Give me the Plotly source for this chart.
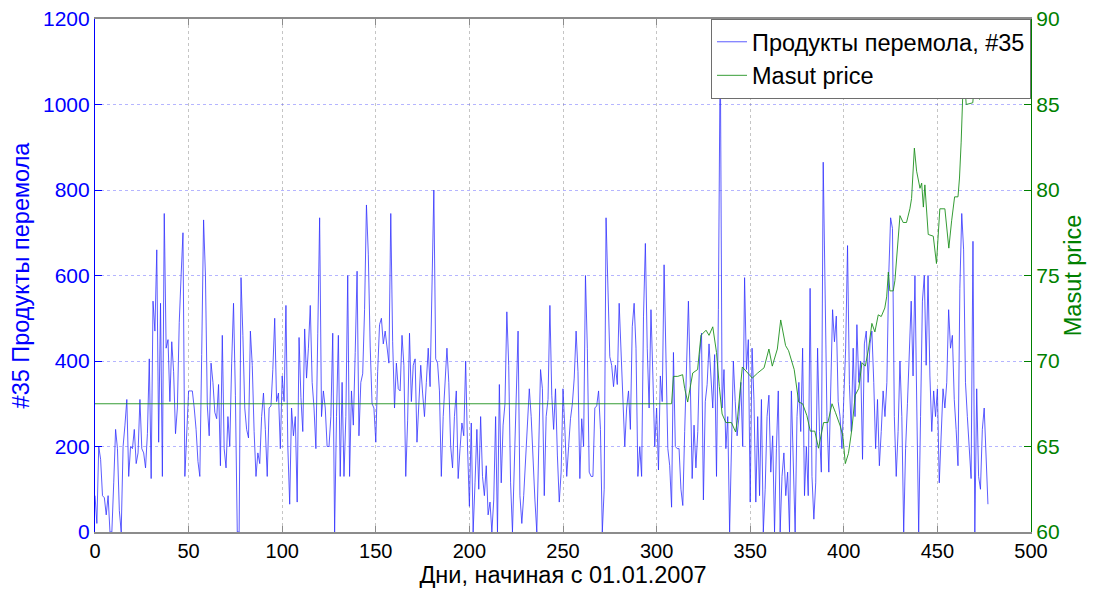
import numpy as np
import plotly.graph_objects as go

# Daily output of milled products (#35), days counted from 01.01.2007
product_35 = [
    85, 20, 200, 170, 85, 80, 40, 85, 0, 0,
    115, 240, 195, 50, 0, 200, 250, 310, 130, 200,
    195, 240, 160, 185, 310, 195, 185, 150, 230, 405,
    125, 540, 470, 660, 210, 535, 130, 745, 430, 450,
    305, 445, 375, 230, 290, 490, 600, 700, 130, 245,
    330, 330, 330, 290, 240, 165, 130, 415, 730, 600,
    295, 225, 395, 350, 280, 265, 345, 155, 460, 195,
    150, 270, 200, 395, 535, 320, 0, 0, 595, 460,
    290, 240, 220, 470, 390, 235, 130, 185, 160, 270,
    325, 240, 130, 290, 295, 380, 500, 305, 325, 195,
    365, 305, 530, 200, 65, 290, 225, 270, 70, 455,
    315, 235, 475, 360, 430, 530, 350, 290, 195, 465,
    735, 270, 330, 290, 200, 200, 270, 465, 0, 270,
    460, 130, 350, 130, 270, 600, 130, 330, 250, 420,
    610, 225, 350, 370, 520, 765, 650, 435, 300, 290,
    210, 375, 485, 500, 440, 470, 430, 395, 745, 445,
    290, 395, 335, 330, 460, 390, 130, 260, 465, 305,
    390, 405, 210, 305, 390, 325, 270, 350, 430, 340,
    570, 800, 405, 395, 330, 130, 270, 350, 430, 350,
    200, 150, 270, 330, 125, 195, 255, 225, 400, 200,
    60, 255, 0, 115, 240, 100, 270, 130, 85, 155,
    40, 70, 0, 75, 270, 0, 345, 115, 250, 300,
    515, 390, 115, 0, 165, 270, 470, 85, 20, 85,
    170, 230, 335, 270, 165, 75, 0, 170, 380, 335,
    85, 270, 310, 530, 320, 240, 335, 180, 70, 140,
    335, 240, 130, 200, 265, 300, 360, 470, 375, 125,
    265, 200, 600, 430, 140, 130, 130, 290, 295, 330,
    240, 0, 100, 735, 570, 410, 390, 340, 390, 345,
    535, 430, 305, 200, 290, 330, 240, 480, 535, 430,
    130, 200, 130, 505, 675, 430, 290, 520, 365, 200,
    290, 145, 365, 305, 625, 430, 195, 155, 58, 420,
    200, 195, 195, 100, 62, 235, 420, 540, 350, 125,
    250, 150, 235, 415, 465, 75, 305, 345, 440, 365,
    290, 415, 130, 520, 1150, 290, 380, 195, 270, 0,
    210, 400, 305, 225, 270, 350, 200, 595, 380, 450,
    70, 430, 310, 70, 270, 85, 310, 0, 100, 270,
    320, 140, 225, 0, 195, 330, 0, 130, 185, 85,
    140, 0, 330, 185, 0, 270, 350, 235, 430, 85,
    200, 85, 570, 130, 30, 115, 430, 235, 140, 865,
    530, 270, 140, 350, 520, 445, 505, 305, 270, 195,
    305, 430, 670, 345, 235, 430, 270, 485, 350, 400,
    170, 440, 470, 350, 440, 470, 350, 195, 310, 155,
    235, 330, 270, 350, 600, 735, 710, 270, 130, 235,
    400, 270, 0, 195, 300, 420, 540, 365, 600, 290,
    0, 270, 540, 600, 390, 600, 365, 235, 330, 270,
    335, 115, 240, 335, 290, 350, 520, 430, 460, 310,
    240, 155, 570, 745, 660, 350, 270, 195, 125, 680,
    0, 335, 130, 100, 240, 290, 155, 65,
]
product_days = np.arange(len(product_35))

# Masut (fuel oil) price, day and value at each change
masut_days = [
    0, 308, 309, 311.3, 313.9, 315, 316.6, 319.3, 321.9, 323.7,
    326.4, 328, 330, 332, 333.5, 335, 337, 340, 342.2, 343.1,
    345.8, 348, 351.1, 354, 357.4, 360, 361.8, 364.5, 366.3, 368.9,
    370.5, 373.5, 375.9, 378, 380.3, 382.1, 384.5, 386.5, 389.2, 391.5,
    393.7, 395.5, 398.1, 399.5, 400.8, 402.5, 404.3, 406.1, 408, 409.7,
    411.5, 413.2, 415, 416.6, 418.4, 420, 421.9, 422.9, 423.8, 424.6,
    426.4, 427.3, 429.1, 430, 431.7, 433.5, 435.3, 436.2, 437.7, 438.9,
    440.7, 441.6, 442.5, 443.3, 445.1, 447.8, 449.5, 451.3, 454, 456.1,
    457.6, 459.2, 461, 461.8, 462.7, 463.6, 464.5, 465.4, 468.9, 469.8,
    470.8, 472.5, 473.4, 474.3, 476,
]
masut_price = [
    67.5, 67.5, 69.1, 69.1, 69.2, 68.4, 67.6, 69.3, 69.5, 71.5,
    71.8, 71.5, 72.0, 70.5, 68.5, 66.9, 66.4, 66.4, 65.85, 66.5,
    69.65, 69.4, 69.0, 69.3, 69.6, 70.7, 69.7, 70.7, 72.4, 70.9,
    70.6, 69.5, 67.6, 67.5, 66.8, 65.9, 65.9, 64.9, 66.4, 66.4,
    67.5, 67.0, 66.2, 65.6, 64.0, 64.6, 66.0, 68.0, 68.4, 69.9,
    69.7, 70.7, 72.2, 71.7, 72.7, 72.6, 73.1, 73.75, 75.2, 74.1,
    74.1, 74.7, 77.4, 78.5, 78.1, 78.1, 78.9, 79.5, 82.45, 81.1,
    80.1, 80.4, 79.0, 80.3, 77.4, 77.3, 75.7, 78.9, 78.9, 76.6,
    78.2, 79.6, 79.6, 80.7, 82.8, 85.75, 86.4, 85.0, 85.1, 86.3,
    87.6, 85.3, 86.0, 86.2, 86.3,
]

x_ticks = [0, 50, 100, 150, 200, 250, 300, 350, 400, 450, 500]
left_ticks = [0, 200, 400, 600, 800, 1000, 1200]
right_ticks = [60, 65, 70, 75, 80, 85, 90]

BLUE = "#0000ff"
GREEN = "#008000"
FRAME = "#8c8c8c"
FONT = "Liberation Sans, Arial, sans-serif"
TITLE_SIZE = 23.5

fig = go.Figure()
fig.add_trace(go.Scatter(
    x=product_days, y=product_35, mode="lines",
    name="Продукты перемола, #35",
    line=dict(color="rgb(50,50,255)", width=0.8),
))
fig.add_trace(go.Scatter(
    x=masut_days, y=masut_price, mode="lines",
    name="Masut price", yaxis="y2",
    line=dict(color="rgb(30,145,30)", width=0.9),
))

fig.update_layout(
    width=1095, height=595,
    margin=dict(l=95, r=64, t=19, b=63, pad=0, autoexpand=False),
    paper_bgcolor="white", plot_bgcolor="white",
    font=dict(family=FONT, size=20, color="black"),
    showlegend=True,
    legend=dict(
        x=1, y=1, xanchor="right", yanchor="top",
        bgcolor="white", bordercolor="#6e6e6e", borderwidth=1,
        font=dict(family=FONT, size=TITLE_SIZE, color="black"),
        tracegroupgap=0,
    ),
    xaxis=dict(
        range=[0, 500], tickvals=x_ticks, automargin=False,
        ticks="inside", ticklen=6, tickcolor=FRAME,
        showline=True, linecolor=FRAME, linewidth=1.5, mirror="ticks",
        showgrid=True, gridcolor="rgba(150,150,150,0.55)", griddash="dot", gridwidth=1,
        zeroline=False,
        tickfont=dict(family=FONT, size=20, color="black"),
        title=dict(text="Дни, начиная с 01.01.2007", standoff=2,
                   font=dict(family=FONT, size=TITLE_SIZE, color="black")),
    ),
    yaxis=dict(
        range=[0, 1200], tickvals=left_ticks, automargin=False,
        ticks="inside", ticklen=7, tickcolor=BLUE,
        showline=True, linecolor=BLUE, linewidth=1.2,
        showgrid=True, gridcolor="rgba(90,90,255,0.45)", griddash="dot", gridwidth=1,
        zeroline=False,
        tickfont=dict(family=FONT, size=21, color=BLUE),
        title=dict(text="#35 Продукты перемола", standoff=6,
                   font=dict(family=FONT, size=TITLE_SIZE, color=BLUE)),
    ),
    yaxis2=dict(
        range=[60, 90], tickvals=right_ticks, automargin=False,
        overlaying="y", side="right",
        ticks="inside", ticklen=7, tickcolor=GREEN,
        showline=True, linecolor=GREEN, linewidth=1.2,
        showgrid=False, zeroline=False,
        tickfont=dict(family=FONT, size=21, color=GREEN),
        title=dict(text="Masut price", standoff=2,
                   font=dict(family=FONT, size=TITLE_SIZE, color=GREEN)),
    ),
)

fig.write_html("out.html")
